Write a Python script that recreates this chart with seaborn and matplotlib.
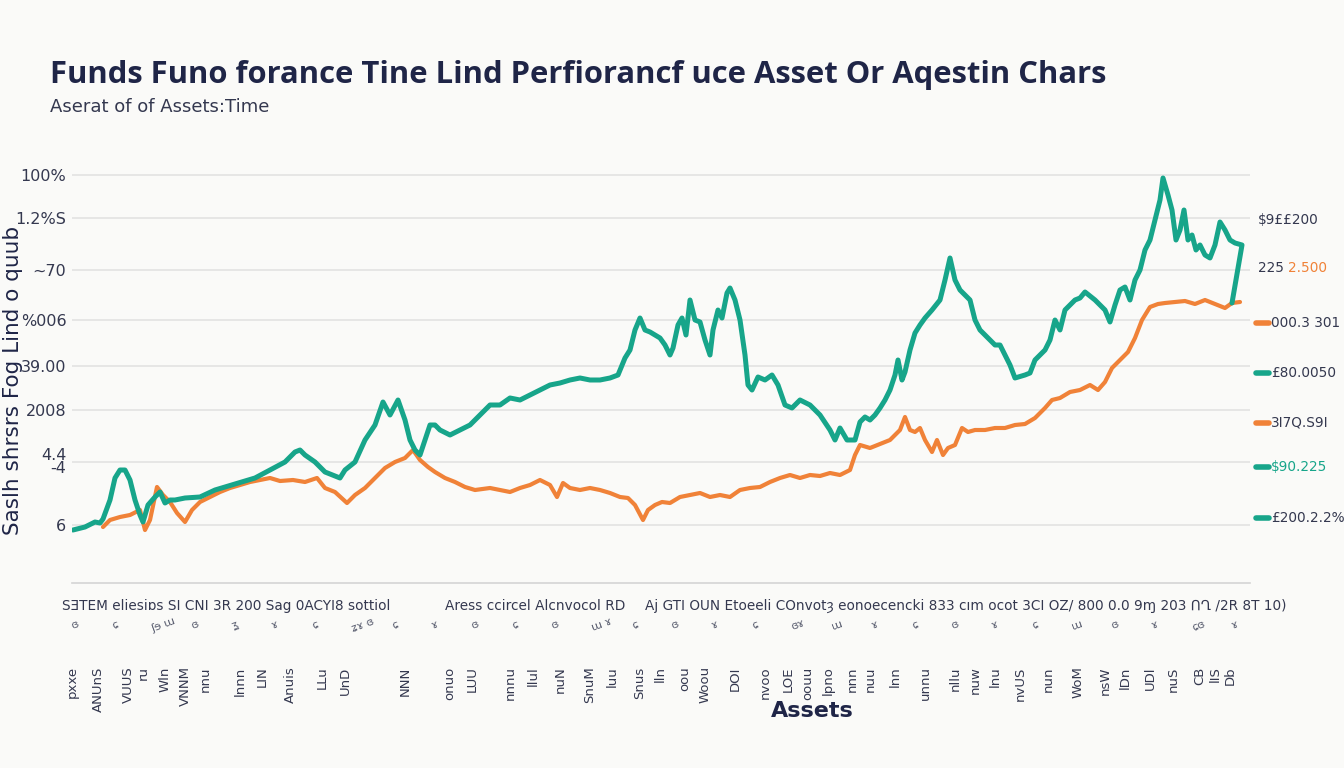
import numpy as np
import pandas as pd
import seaborn as sns
import matplotlib
matplotlib.use("Agg")
import matplotlib.pyplot as plt
from matplotlib.lines import Line2D

# ---------------- data ----------------
teal_x = [13, 25, 35, 40, 43, 50, 55, 60, 65, 70, 75, 80, 83, 88, 95, 100, 105, 110, 115, 125,
          140, 155, 175, 195, 210, 225, 235, 240, 245, 255, 265, 275, 280, 285, 295, 305, 315, 323,
          330, 338, 345, 350, 355, 360, 365, 370, 375, 380, 390, 400, 410, 420, 430, 440, 450, 460,
          470, 480, 490, 500, 510, 520, 530, 540, 550, 558, 565, 570, 575, 580, 585, 590, 595, 600,
          605, 610, 613, 618, 622, 626, 630, 635, 640, 645, 650, 653, 658, 662, 667, 670, 675, 680,
          685, 688, 692, 698, 705, 712, 718, 725, 732, 740, 750, 760, 770, 775, 780, 787, 795, 800,
          805, 810, 815, 820, 825, 830, 835, 838, 842, 845, 850, 855, 860, 865, 872, 880, 885, 890,
          895, 900, 905, 910, 915, 920, 925, 930, 935, 940, 945, 950, 955, 965, 970, 975, 980, 985,
          990, 995, 1000, 1005, 1010, 1015, 1020, 1025, 1035, 1040, 1045, 1050, 1055, 1060, 1065,
          1070, 1075, 1080, 1085, 1090, 1095, 1100, 1103, 1108, 1112, 1116, 1120, 1124, 1128, 1132,
          1136, 1140, 1145, 1150, 1155, 1160, 1165, 1170, 1175, 1182, 1172]
teal_y = [53, 56, 61, 60, 64, 83, 105, 113, 113, 103, 83, 68, 61, 78, 86, 91, 80, 83, 83, 85,
          86, 93, 99, 105, 113, 121, 131, 133, 128, 121, 111, 107, 105, 113, 121, 143, 158, 181,
          168, 183, 163, 143, 133, 128, 143, 158, 158, 153, 148, 153, 158, 168, 178, 178, 185, 183,
          188, 193, 198, 200, 203, 205, 203, 203, 205, 208, 225, 233, 253, 265, 253, 251, 248, 245,
          238, 228, 235, 258, 265, 248, 283, 263, 261, 243, 228, 253, 273, 265, 290, 295, 283, 263,
          228, 198, 193, 206, 203, 208, 198, 178, 175, 183, 178, 168, 153, 143, 155, 143, 143, 161,
          166, 163, 168, 175, 183, 193, 208, 223, 203, 211, 233, 250, 258, 265, 273, 283, 303, 325,
          303, 293, 288, 283, 263, 253, 248, 243, 238, 238, 228, 218, 205, 208, 210, 223, 228, 233,
          243, 263, 253, 273, 278, 283, 285, 291, 283, 278, 273, 261, 278, 293, 296, 283, 303,
          313, 333, 343, 363, 383, 405, 388, 373, 343, 353, 373, 343, 348,
          333, 338, 328, 325, 338, 361, 353, 343, 340, 338, 280]

orange_x = [43, 50, 60, 70, 80, 85, 90, 97, 103, 110, 117, 125, 132, 140, 150, 160, 170, 180, 190,
            200, 210, 220, 233, 245, 257, 265, 275, 287, 295, 305, 315, 325, 335, 345, 353, 360,
            368, 375, 385, 395, 405, 415, 430, 440, 450, 460, 470, 480, 490, 497, 503, 510, 520,
            530, 540, 550, 560, 568, 575, 583, 588, 595, 602, 610, 620, 630, 640, 650, 660, 670,
            680, 690, 700, 710, 720, 730, 740, 750, 760, 770, 780, 790, 795, 800, 810, 820, 830,
            840, 845, 850, 855, 860, 865, 872, 877, 883, 888, 895, 902, 908, 915, 925, 935, 945,
            955, 965, 975, 985, 992, 1000, 1010, 1020, 1030, 1038, 1045, 1052, 1060, 1068, 1075,
            1082, 1090, 1098, 1105, 1115, 1125, 1135, 1145, 1155, 1165, 1172, 1180]
orange_y = [56, 63, 66, 68, 73, 53, 63, 96, 88, 81, 70, 61, 73, 81, 86, 91, 95, 98, 101,
            103, 105, 102, 103, 101, 105, 95, 91, 80, 88, 95, 105, 115, 121, 125, 133, 123,
            116, 111, 105, 101, 96, 93, 95, 93, 91, 95, 98, 103, 98, 86, 100, 95, 93,
            95, 93, 90, 86, 85, 78, 63, 73, 78, 81, 80, 86, 88, 90, 86, 88, 86,
            93, 95, 96, 101, 105, 108, 105, 108, 107, 110, 108, 113, 128, 138, 135, 139, 143,
            153, 166, 153, 151, 155, 143, 131, 143, 128, 135, 138, 155, 151, 153, 153, 155, 155,
            158, 159, 165, 175, 183, 185, 191, 193, 198, 193, 201, 215, 223, 231, 245,
            263, 276, 279, 280, 281, 282, 279, 283, 279, 275, 280, 281]

series_names = ["Fund A", "Fund B"]

ytick_vals = [408, 365, 313, 263, 217, 173, 121, 58]
ytick_labels = ["100%", "1.2%S", "~70", "%006", "39.00", "2008", "4.4\n-4", "6"]

xtick_vals = [12, 38, 68, 83, 105, 125, 145, 180, 202, 230, 262, 285, 345, 390, 412, 450, 473,
              500, 530, 552, 580, 600, 625, 645, 675, 705, 728, 748, 768, 792, 810, 835, 865,
              895, 915, 935, 960, 988, 1018, 1045, 1065, 1090, 1113, 1140, 1155, 1170]
xtick_labels = ["pxxe", "ANUnS", "VUUS", "ru", "Wln", "VNNM", "nnu", "lnnn", "LIN",
                "Anuis", "LLu", "UnD", "NNN", "onuo", "LUU", "nnnu", "llul", "nuN",
                "SnuM", "luu", "Snus", "lln", "oou", "Woou", "DOI", "nvoo", "LOE",
                "oouu", "lpno", "nnn", "nuu", "lnn", "unnu", "nllu", "nuw", "lnu",
                "nvUS", "nun", "WoM", "nsW", "lDn", "UDl", "nuS", "CB", "lIS", "Db"]

top_row_text = ["SƎTEM eliesiɒs SI CNI 3R 200 Sag 0ACYI8 sottiol",
                "Aress ccircel Alcnvocol RD",
                "Aj GTI OUN Etoeeli COnvotȝ eonoecencki 833 cım ocot 3CI OZ/ 800 0.0 9ɱ 203 ՈՂ /2R 8T 10)"]

right_labels = ["$9££200", "225 ", "2.500", "000.3 301", "£80.0050", "3I7Q.S9I", "$90.225", "£200.2.2%"]

# ---------------- styling ----------------
TEAL = "#17a58a"
ORANGE = "#f08238"
NAVY = "#1f2547"
TXT = "#34384f"
BG = "#fafaf8"

sns.set_theme(style="white")
plt.rcParams["font.family"] = ["DejaVu Sans"]

df = pd.concat([
    pd.DataFrame({"x": teal_x, "y": teal_y, "series": series_names[0]}),
    pd.DataFrame({"x": orange_x, "y": orange_y, "series": series_names[1]}),
])

fig = plt.figure(figsize=(13.44, 7.68), dpi=100, facecolor=BG)
ax = fig.add_axes([72 / 1344, 1 - 583 / 768, (1250 - 72) / 1344, (583 - 170) / 768])
ax.set_facecolor(BG)

for name, col, lw in [(series_names[1], ORANGE, 3.0), (series_names[0], TEAL, 3.6)]:
    sns.lineplot(data=df[df["series"] == name], x="x", y="y", color=col, linewidth=lw,
                 sort=False, estimator=None, ax=ax, legend=False,
                 solid_joinstyle="round", solid_capstyle="round")

ax.set_xlim(12, 1190)
ax.set_ylim(0, 413)
ax.set_yticks(ytick_vals)
ax.set_yticklabels(ytick_labels, fontsize=11.5, color=TXT, linespacing=0.8)
ax.yaxis.grid(True, color="#e2e2e2", linewidth=1.2)
ax.xaxis.grid(False)
ax.set_xticks(xtick_vals)
ax.set_xticklabels(xtick_labels, rotation=90, fontsize=9.5, color=TXT, va="top")
ax.tick_params(axis="x", length=0, pad=60)
ax.tick_params(axis="y", length=0, pad=4)
ax.set_xlabel("")
ax.set_ylabel("")
for s in ["top", "right", "left"]:
    ax.spines[s].set_visible(False)
ax.spines["bottom"].set_color("#d4d4d4")
ax.spines["bottom"].set_linewidth(1.2)

def fx(px):
    return px / 1344

def fy(py):
    return 1 - py / 768

# title & subtitle
fig.text(fx(50), fy(75), "Funds Funo forance Tine Lind Perfiorancf uce Asset Or Aqestin Chars",
         fontsize=22.3, fontweight="bold", color=NAVY, va="center", ha="left",
         family=["Open Sans", "DejaVu Sans"])
fig.text(fx(50), fy(107), "Aserat of of Assets:Time", fontsize=13, color=TXT,
         va="center", ha="left")

# y label
fig.text(fx(13), fy(380), "Saslh shrsrs Fog Lind o quub", rotation=90, fontsize=15.5,
         fontweight="medium", color=NAVY, va="center", ha="center")

# x label
fig.text(fx(812), fy(711), "Assets", fontsize=16, fontweight="bold", color=NAVY,
         va="center", ha="center")

# top row of x texts
for px, t in zip([62, 445, 645], top_row_text):
    fig.text(fx(px), fy(606), t, fontsize=9.8, color=TXT, va="center", ha="left")

# scribble row
scribbles = ["ɞ", "ɕ", "ʃɘ ɯ", "ɞ", "ʓ", "ɤ", "ɕ", "ʑɤ ɞ", "ɕ", "ɤ", "ɞ", "ɕ", "ɞ", "ɯ ɤ", "ɕ",
             "ɞ", "ɤ", "ɕ", "ɞɤ", "ɯ", "ɤ", "ɕ", "ɞ", "ɤ", "ɕ", "ɯ", "ɞ", "ɤ", "ɕɞ", "ɤ"]
for i, t in enumerate(scribbles):
    fig.text(fx(70 + i * 40), fy(625), t, fontsize=8, color="#5a5e70", va="center",
             ha="left", rotation=20)

# right side labels
rows = [(220, None, [(right_labels[0], TXT)]),
        (268, None, [(right_labels[1], TXT), (right_labels[2], ORANGE)]),
        (323, ORANGE, [(right_labels[3], TXT)]),
        (373, TEAL, [(right_labels[4], TXT)]),
        (423, ORANGE, [(right_labels[5], TXT)]),
        (467, TEAL, [(right_labels[6], TEAL)]),
        (518, TEAL, [(right_labels[7], TXT)])]
for py, dash, parts in rows:
    x0 = 1258
    if dash is not None:
        fig.add_artist(Line2D([fx(1256), fx(1269)], [fy(py), fy(py)], color=dash,
                              linewidth=4, transform=fig.transFigure))
        x0 = 1271
    fig.text(fx(x0), fy(py), parts[0][0], fontsize=9.8, color=parts[0][1],
             va="center", ha="left")
    if len(parts) > 1:
        fig.text(fx(x0 + 30), fy(py), parts[1][0], fontsize=9.8, color=parts[1][1],
                 va="center", ha="left")

fig.savefig("out.png", dpi=100, facecolor=BG)
